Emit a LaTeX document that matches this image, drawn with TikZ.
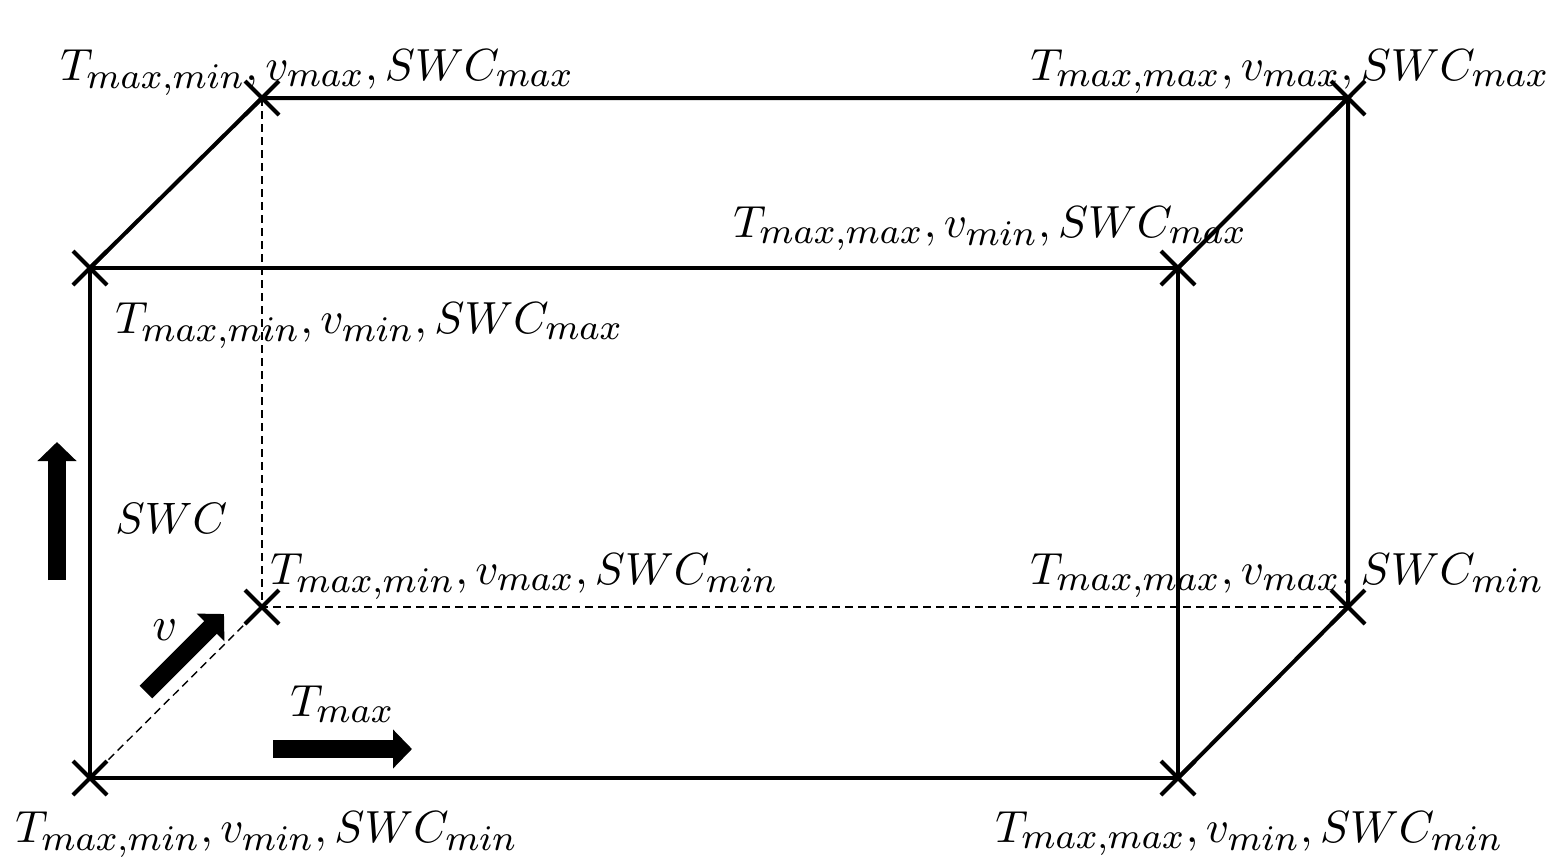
\documentclass[tikz,border=0pt]{standalone}
\usepackage{graphicx}
\usetikzlibrary{shapes.misc,arrows.meta}
\DeclareMathSizes{10}{10}{8}{6}
\newcommand{\vlab}[3]{\scalebox{2.25}{$T_{max,#1},v_{#2},SWC_{#3}$}}
\newcommand{\bigtxt}[2][2.3]{\scalebox{#1}{#2}}
\begin{document}
\begin{tikzpicture}[x=0.5pt,y=-0.5pt,
  vtx/.style={draw,cross out,line width=2pt,minimum size=15pt,inner sep=0pt},
  edge/.style={line width=2pt},
  hidden/.style={line width=0.7pt,dash pattern=on 4pt off 2.5pt},
  lbl/.style={anchor=base west,inner sep=0pt},
  blockarrow/.style={line width=9pt,-{Triangle[length=9.5pt,width=19pt]}}]
\useasboundingbox (0,0) rectangle (1555,864);
% vertices
\node[vtx] (fbl) at (90,778) {};
\node[vtx] (fbr) at (1178,778) {};
\node[vtx] (ftl) at (90,268) {};
\node[vtx] (ftr) at (1178,268) {};
\node[vtx] (btl) at (262,98) {};
\node[vtx] (btr) at (1348,98) {};
\node[vtx] (bbl) at (262,607) {};
\node[vtx] (bbr) at (1348,607) {};
% solid edges
\draw[edge] (fbl.center) -- (fbr.center) -- (ftr.center) -- (ftl.center) -- (fbl.center);
\draw[edge] (ftl.center) -- (btl.center) -- (btr.center) -- (ftr.center);
\draw[edge] (btr.center) -- (bbr.center) -- (fbr.center);
% hidden edges
\draw[hidden] (btl.center) -- (bbl.center) -- (bbr.center);
\draw[hidden] (fbl.center) -- (bbl.center);
% labels
\node[lbl] (l1) at (60,80) {\vlab{min}{max}{max}};
\node[lbl] (l2) at (1030,80) {\vlab{max}{max}{max}};
\node[lbl] (l3) at (733,237) {\vlab{max}{min}{max}};
\node[lbl] (l4) at (115,333) {\vlab{min}{min}{max}};
\node[lbl] (l5) at (270,584) {\vlab{min}{max}{min}};
\node[lbl] (l6) at (1030,584) {\vlab{max}{max}{min}};
\node[lbl] (l7) at (15,842) {\vlab{min}{min}{min}};
\node[lbl] (l8) at (995,842) {\vlab{max}{min}{min}};
% axis arrows
\coordinate (swcA) at (57,580);
\coordinate (swcB) at (57,442);
\draw[blockarrow] (swcA) -- (swcB);
\node[lbl] (swc) at (115,533) {\bigtxt[2.2]{$SWC$}};
\coordinate (vA) at (146,692);
\coordinate (vB) at (224,614);
\draw[blockarrow] (vA) -- (vB);
\node[lbl] (vl) at (152,640) {\bigtxt[2.4]{$v$}};
\coordinate (tA) at (273,749);
\coordinate (tB) at (412,749);
\draw[blockarrow] (tA) -- (tB);
\node[lbl] (tl) at (290,716) {\bigtxt[2.25]{$T_{max}$}};
\end{tikzpicture}
\end{document}
